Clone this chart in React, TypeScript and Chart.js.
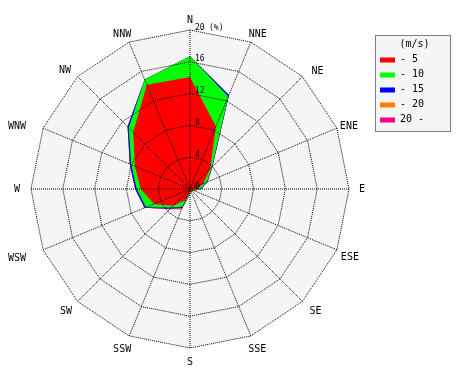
import React, { useEffect, useRef } from 'react';
import { Chart, registerables } from 'chart.js';

Chart.register(...registerables);

// Wind directions (clockwise from north)
const directions = ['N', 'NNE', 'NE', 'ENE', 'E', 'ESE', 'SE', 'SSE', 'S', 'SSW', 'SW', 'WSW', 'W', 'WNW', 'NW', 'NNW'];

// Speed classes (m/s) and colours
const speedClasses = ['- 5', '- 10', '- 15', '- 20', '20 -'];
const classColors = ['#ff0000', '#00ff00', '#0000ff', '#ff8000', '#ff0080'];

// Frequency (%) of each speed class per direction
const upTo5 = [14.1, 8.5, 3.6, 1.8, 0.9, 0.4, 0.3, 0.3, 0.4, 1.5, 3.0, 4.9, 6.2, 7.5, 10.1, 14.2];
const from5to10 = [2.6, 4.1, 0.3, 0.5, 0.4, 0.2, 0.1, 0.1, 0.2, 0.9, 0.3, 1.1, 0.5, 0.5, 0.8, 0.7];
const from10to15 = [0.0, 0.2, 0.1, 0.1, 0.1, 0.0, 0.0, 0.0, 0.1, 0.2, 0.2, 0.2, 0.2, 0.2, 0.2, 0.0];
const from15to20 = [0, 0, 0, 0, 0, 0, 0, 0, 0, 0.1, 0.1, 0, 0, 0, 0, 0];
const over20 = [0, 0, 0, 0, 0, 0, 0, 0, 0, 0.05, 0, 0, 0, 0, 0, 0];

// Radial axis
const radialTicks = [0, 4, 8, 12, 16, 20];
const unitLabel = '(%)';
const legendTitle = '(m/s)';

const classSeries = [upTo5, from5to10, from10to15, from15to20, over20];

// label placement offsets (px) from the outer ring vertex of each direction
const LABEL_OFFSETS: [number, number][] = [
  [0, -10], [7, -8], [15, -5], [12, -2], [13, 0], [13, 8], [13, 9.5], [6.5, 14],
  [0, 14], [-7, 14], [-11.5, 9.5], [-26, 9], [-14, 0], [-26, -2], [-12.5, -6.5], [-7, -8],
];

function stacked(): number[][] {
  const out: number[][] = [];
  classSeries.forEach((series, k) => {
    out.push(series.map((v, i) => (k === 0 ? v : out[k - 1][i] + v)));
  });
  return out;
}

const MONO = '"DejaVu Sans Mono", monospace';

const backgroundPlugin = {
  id: 'roseBackground',
  beforeDraw(chart: any) {
    const s = chart.scales.r;
    const ctx = chart.ctx;
    ctx.save();
    ctx.beginPath();
    directions.forEach((_, i) => {
      const p = s.getPointPosition(i, s.drawingArea);
      if (i === 0) ctx.moveTo(p.x, p.y);
      else ctx.lineTo(p.x, p.y);
    });
    ctx.closePath();
    ctx.fillStyle = '#f5f5f5';
    ctx.fill();
    ctx.restore();
  },
};

const labelsPlugin = {
  id: 'roseLabels',
  afterDraw(chart: any) {
    const s = chart.scales.r;
    const ctx = chart.ctx;
    const R = s.drawingArea;
    ctx.save();
    ctx.fillStyle = '#000';
    // direction labels
    ctx.font = `10px ${MONO}`;
    ctx.textAlign = 'center';
    ctx.textBaseline = 'middle';
    directions.forEach((d, i) => {
      const p = s.getPointPosition(i, R);
      const [dx, dy] = LABEL_OFFSETS[i];
      ctx.fillText(d, p.x + dx, p.y + dy);
    });
    // radial tick labels
    ctx.font = `8px ${MONO}`;
    ctx.textAlign = 'left';
    radialTicks.forEach((t) => {
      const y = s.yCenter - s.getDistanceFromCenterForValue(t) - 2.5;
      ctx.fillText(String(t), s.xCenter + 5, y);
      if (t === radialTicks[radialTicks.length - 1]) {
        ctx.fillText(unitLabel, s.xCenter + 19, y);
      }
    });
    // legend
    const lx = 375.5, ly = 35.5, lw = 75, lh = 96;
    ctx.fillStyle = '#f5f5f5';
    ctx.fillRect(lx, ly, lw, lh);
    ctx.setLineDash([1, 1]);
    ctx.strokeStyle = '#000';
    ctx.lineWidth = 1;
    ctx.strokeRect(lx, ly, lw, lh);
    ctx.setLineDash([]);
    ctx.fillStyle = '#000';
    ctx.font = `10px ${MONO}`;
    ctx.textAlign = 'center';
    ctx.textBaseline = 'middle';
    ctx.fillText(legendTitle, 414.5, 44.5);
    ctx.textAlign = 'left';
    speedClasses.forEach((c, k) => {
      const y = 59.5 + k * 15;
      ctx.fillStyle = classColors[k];
      ctx.fillRect(380, y - 2, 15, 5);
      ctx.fillStyle = '#000';
      ctx.fillText(c, 400, y);
    });
    ctx.restore();
  },
};

export default function App() {
  const canvasRef = useRef<HTMLCanvasElement | null>(null);

  useEffect(() => {
    const canvas = canvasRef.current;
    if (!canvas) return;
    const cum = stacked();
    const chart = new Chart(canvas, {
      type: 'radar',
      data: {
        labels: directions,
        datasets: speedClasses.map((c, k) => ({
          label: c,
          data: cum[k],
          backgroundColor: classColors[k],
          borderColor: 'rgba(0,0,0,0)',
          borderWidth: 0,
          pointRadius: 0,
          pointHoverRadius: 0,
          fill: 'origin',
          tension: 0,
        })),
      },
      options: {
        responsive: false,
        animation: false,
        events: [],
        layout: { padding: { left: 31, top: 30, right: 121, bottom: 32 } },
        plugins: {
          legend: { display: false },
          tooltip: { enabled: false },
          title: { display: false },
        },
        scales: {
          r: {
            min: 0,
            max: 20,
            startAngle: 0,
            ticks: { display: false, stepSize: 4 },
            pointLabels: { display: false },
            grid: { color: '#000', lineWidth: 1, z: 1, borderDash: [1, 1] } as any,
            border: { dash: [1, 1] } as any,
            angleLines: { color: '#000', lineWidth: 1, borderDash: [1, 1] } as any,
          },
        },
      },
      plugins: [backgroundPlugin, labelsPlugin],
    } as any);
    return () => chart.destroy();
  }, []);

  return (
    <div style={{ position: 'absolute', left: 0, top: 0, width: 470, height: 380, background: '#fff' }}>
      <canvas ref={canvasRef} width={470} height={380} style={{ display: 'block' }} />
    </div>
  );
}
